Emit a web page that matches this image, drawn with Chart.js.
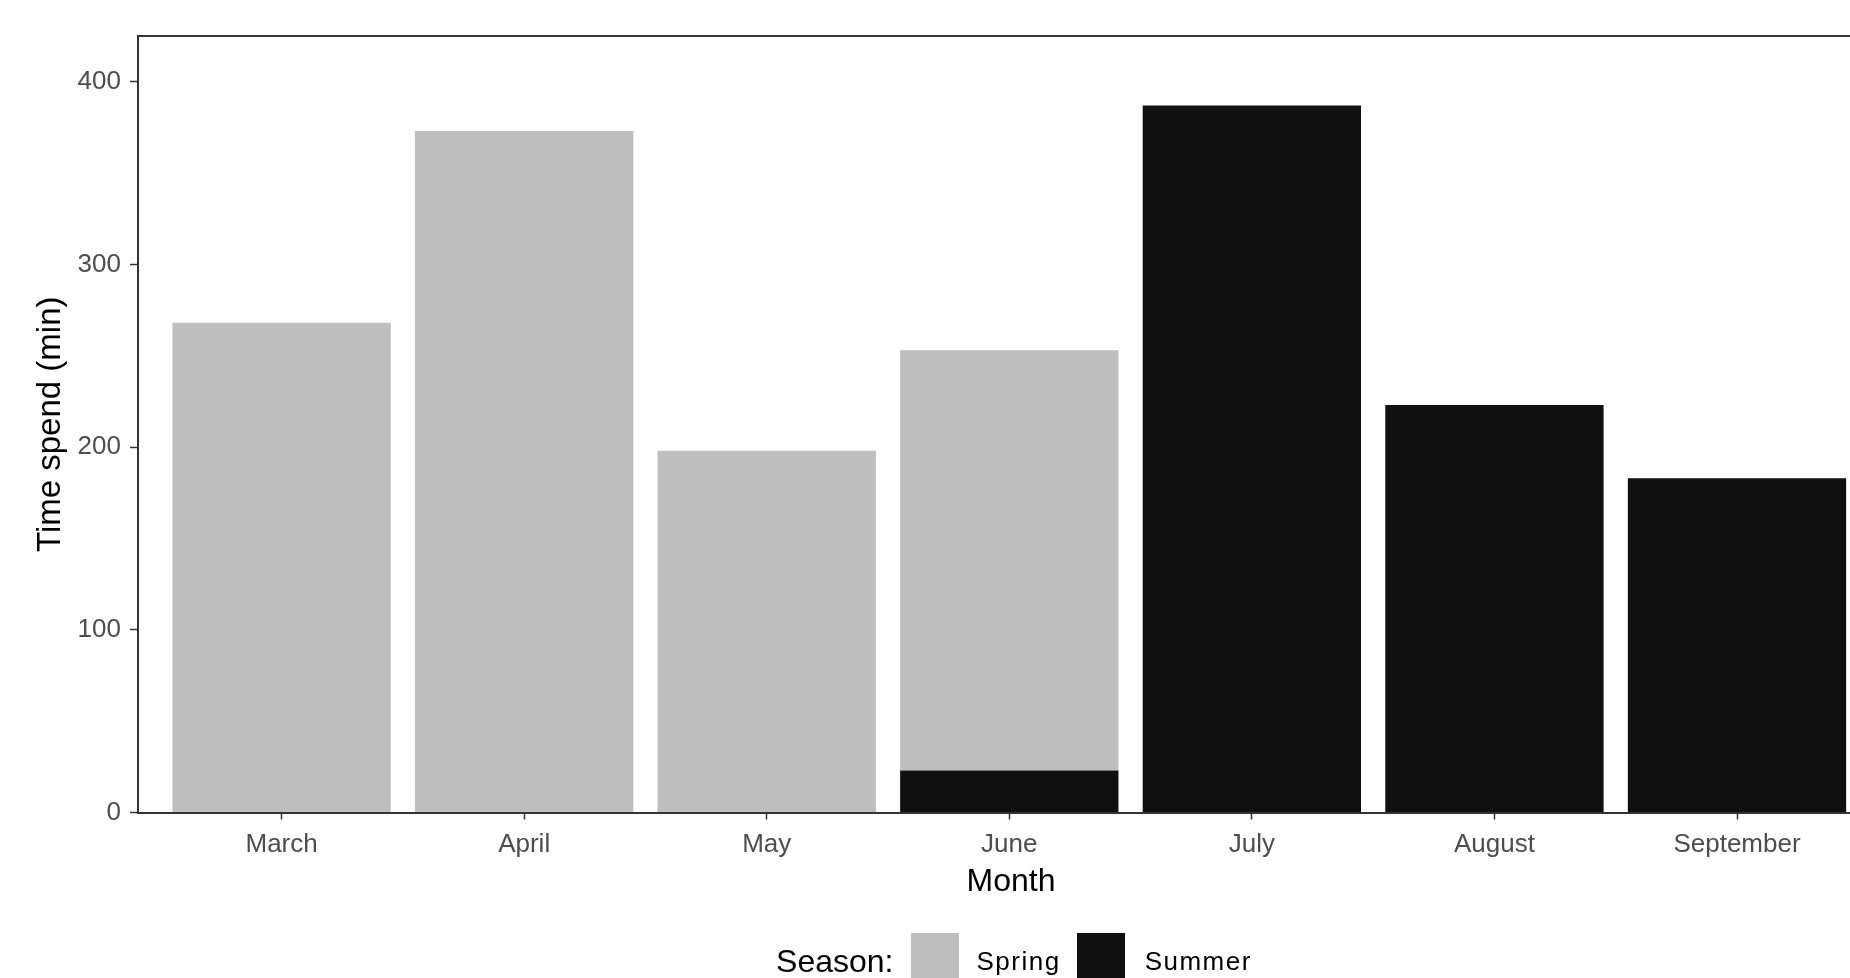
<!DOCTYPE html>
<html lang="en">
<head>
    <meta charset="UTF-8">
    <title>Time spend per month</title>
    <script src="https://cdn.jsdelivr.net/npm/chart.js"></script>
    <style>
        body {
            margin: 0;
            background: #ffffff;
            overflow: hidden;
            font-family: 'Liberation Sans', Arial, sans-serif;
        }
        #wrap {
            position: relative;
            width: 1850px;
            height: 978px;
            overflow: hidden;
        }
        #mainChart {
            position: absolute;
            left: 0;
            top: 0;
        }
        .legend {
            position: absolute;
            left: 0;
            top: 933px;
            width: 2028px;
            height: 56px;
            display: flex;
            justify-content: center;
            align-items: center;
            color: #000000;
        }
        .legend .title { font-size: 32px; margin-right: 17px; }
        .legend .box { width: 48px; height: 56px; }
        .legend .lbl { font-size: 26px; letter-spacing: 1.5px; }
    </style>
</head>
<body>
    <div id="wrap">
        <canvas id="mainChart" width="1900" height="978"></canvas>
        <div class="legend" id="legend"></div>
    </div>

    <script>
    var months = ['March', 'April', 'May', 'June', 'July', 'August', 'September'];
    var springMinutes = [268, 373, 198, 230, null, null, null];
    var summerMinutes = [null, null, null, 23, 387, 223, 183];
    var yTicks = [0, 100, 200, 300, 400];
    var yMax = 425;

    var colors = {
        Spring: '#BEBEBE',
        Summer: '#101010'
    };

    var fontFamily = "'Liberation Sans', Arial, sans-serif";
    var axisColor = '#333333';
    var tickTextColor = '#4D4D4D';

    // ggplot-like panel: top and right edges (left/bottom come from the axes)
    var panelBorder = {
        id: 'panelBorder',
        afterDraw: function(chart) {
            var a = chart.chartArea;
            var ctx = chart.ctx;
            ctx.save();
            ctx.strokeStyle = axisColor;
            ctx.lineWidth = 2;
            ctx.beginPath();
            ctx.moveTo(a.left, a.top);
            ctx.lineTo(a.right, a.top);
            ctx.lineTo(a.right, a.bottom);
            ctx.stroke();
            ctx.restore();
        }
    };

    function toPoints(values) {
        return values.map(function(v, i) { return { x: i + 1, y: v }; });
    }

    // Summer first so it sits at the bottom of the June stack
    var datasets = [
        { label: 'Summer', data: toPoints(summerMinutes), backgroundColor: colors.Summer },
        { label: 'Spring', data: toPoints(springMinutes), backgroundColor: colors.Spring }
    ].map(function(d) {
        d.borderWidth = 0;
        d.categoryPercentage = 0.9;
        d.barPercentage = 1.0;
        return d;
    });

    var ctx = document.getElementById('mainChart').getContext('2d');
    var chart = new Chart(ctx, {
        type: 'bar',
        data: { datasets: datasets },
        options: {
            responsive: false,
            animation: false,
            layout: { padding: { top: 36, right: 16, bottom: 0, left: 0 } },
            plugins: {
                legend: { display: false },
                tooltip: { enabled: false }
            },
            scales: {
                x: {
                    type: 'linear',
                    stacked: true,
                    min: 0.408,
                    max: 7.606,
                    offset: false,
                    afterBuildTicks: function(scale) {
                        scale.ticks = months.map(function(m, i) { return { value: i + 1 }; });
                    },
                    afterFit: function(scale) { scale.height = 165.5; },
                    grid: {
                        offset: false,
                        drawOnChartArea: false,
                        drawTicks: true,
                        tickLength: 7,
                        tickColor: axisColor,
                        tickWidth: 1.5
                    },
                    border: { display: true, color: axisColor, width: 2, z: 1 },
                    ticks: {
                        autoSkip: false,
                        maxRotation: 0,
                        padding: 10,
                        color: tickTextColor,
                        font: { family: fontFamily, size: 26 },
                        callback: function(value) { return months[Math.round(value) - 1]; }
                    },
                    title: {
                        display: true,
                        text: 'Month',
                        color: '#000000',
                        font: { family: fontFamily, size: 32 },
                        padding: { top: 0, bottom: 77 }
                    }
                },
                y: {
                    stacked: true,
                    min: 0,
                    max: yMax,
                    afterBuildTicks: function(scale) {
                        scale.ticks = yTicks.map(function(v) { return { value: v }; });
                    },
                    afterFit: function(scale) { scale.width = 138; },
                    grid: {
                        drawOnChartArea: false,
                        drawTicks: true,
                        tickLength: 8,
                        tickColor: axisColor,
                        tickWidth: 1.5
                    },
                    border: { display: true, color: axisColor, width: 2, z: 1 },
                    ticks: {
                        padding: 9,
                        color: tickTextColor,
                        font: { family: fontFamily, size: 26 }
                    },
                    title: {
                        display: true,
                        text: 'Time spend (min)',
                        color: '#000000',
                        font: { family: fontFamily, size: 33 },
                        padding: { top: 31, bottom: 0 }
                    }
                }
            }
        },
        plugins: [panelBorder]
    });

    // legend below the plot, ggplot style: "Season:" [box] Spring [box] Summer
    var legend = document.getElementById('legend');
    var title = document.createElement('span');
    title.className = 'title';
    title.textContent = 'Season:';
    legend.appendChild(title);
    ['Spring', 'Summer'].forEach(function(name, i) {
        var box = document.createElement('span');
        box.className = 'box';
        box.style.background = colors[name];
        box.style.marginLeft = i === 0 ? '0px' : '16px';
        legend.appendChild(box);
        var lbl = document.createElement('span');
        lbl.className = 'lbl';
        lbl.textContent = name;
        lbl.style.marginLeft = i === 0 ? '18px' : '20px';
        legend.appendChild(lbl);
    });
    </script>
</body>
</html>
